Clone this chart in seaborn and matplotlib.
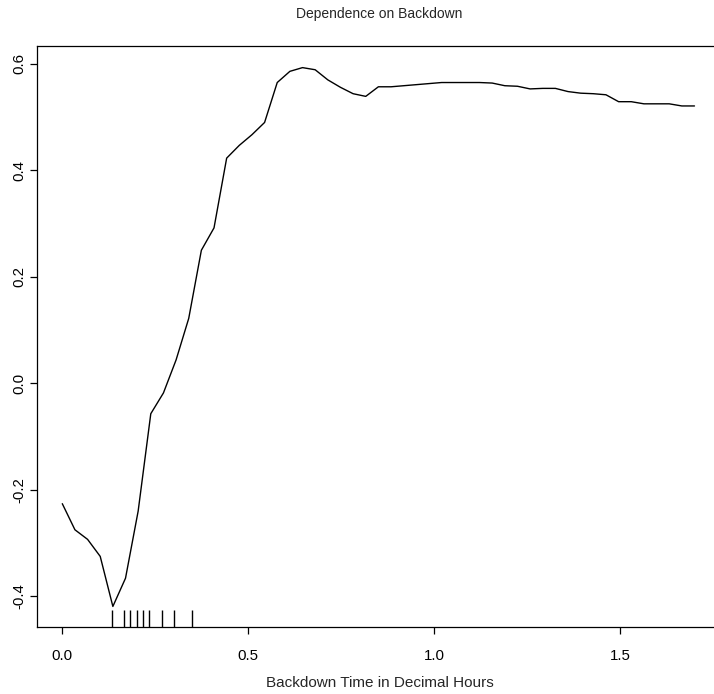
import numpy as np
import pandas as pd
import matplotlib
matplotlib.use("Agg")
import matplotlib.pyplot as plt
import seaborn as sns

# ---- data ----
backdown_hours = [0.000, 0.034, 0.068, 0.102, 0.136, 0.170, 0.204, 0.238, 0.272, 0.306,
                  0.340, 0.374, 0.408, 0.442, 0.476, 0.510, 0.544, 0.578, 0.612, 0.646,
                  0.680, 0.714, 0.748, 0.782, 0.816, 0.850, 0.884, 0.918, 0.952, 0.986,
                  1.020, 1.054, 1.088, 1.122, 1.156, 1.190, 1.224, 1.258, 1.292, 1.326,
                  1.360, 1.394, 1.428, 1.462, 1.496, 1.530, 1.564, 1.598, 1.632, 1.666,
                  1.700]
dependence = [-0.226, -0.275, -0.293, -0.325, -0.419, -0.366, -0.240, -0.057, -0.018, 0.044,
              0.122, 0.250, 0.292, 0.423, 0.447, 0.467, 0.490, 0.565, 0.586, 0.593,
              0.589, 0.570, 0.556, 0.544, 0.539, 0.557, 0.557, 0.559, 0.561, 0.563,
              0.565, 0.565, 0.565, 0.565, 0.564, 0.559, 0.558, 0.553, 0.554, 0.554,
              0.548, 0.545, 0.544, 0.542, 0.529, 0.529, 0.525, 0.525, 0.525, 0.521,
              0.521]
rug_deciles = [0.133, 0.167, 0.183, 0.200, 0.217, 0.233, 0.267, 0.300, 0.350]

x_ticks = [0.0, 0.5, 1.0, 1.5]
x_tick_labels = ["0.0", "0.5", "1.0", "1.5"]
y_ticks = [-0.4, -0.2, 0.0, 0.2, 0.4, 0.6]
y_tick_labels = ["-0.4", "-0.2", "0.0", "0.2", "0.4", "0.6"]

title = "Dependence on Backdown"
xlabel = "Backdown Time in Decimal Hours"

# ---- plotting ----
sns.set_style("ticks")
plt.rcParams['font.family'] = ['Liberation Sans', 'DejaVu Sans']
plt.rcParams['axes.unicode_minus'] = False

W, H = 714, 694
fig = plt.figure(figsize=(W / 100, H / 100), dpi=100)
left, right, bottom, top = 37, 722, 627, 46
ax = fig.add_axes([left / W, (H - bottom) / H, (right - left) / W, (bottom - top) / H])

df = pd.DataFrame({"x": backdown_hours, "y": dependence})
sns.lineplot(data=df, x="x", y="y", ax=ax, color="black", linewidth=1.0, estimator=None)
sns.rugplot(x=rug_deciles, ax=ax, height=0.03, color="black", linewidth=1.0, expand_margins=False)

ax.set_xlim(-0.068, 1.774)
ax.set_ylim(-0.4576, 0.6336)

ax.set_xticks(x_ticks)
ax.set_xticklabels(x_tick_labels)
ax.set_yticks(y_ticks)
ax.set_yticklabels(y_tick_labels, rotation=90, va="center")

for s in ax.spines.values():
    s.set_linewidth(0.9)
    s.set_color("black")
ax.spines["right"].set_visible(False)

ax.tick_params(axis="x", length=5, width=0.9, pad=11, labelsize=10.8, colors="black")
ax.tick_params(axis="y", length=5, width=0.9, pad=3, labelsize=10.8, colors="black")

ax.set_xlabel("")
ax.set_ylabel("")
ax.text(0.5, -0.0964, xlabel, transform=ax.transAxes, ha="center", va="center", fontsize=11)
ax.text(0.5, 1.055, title, transform=ax.transAxes, ha="center", va="center", fontsize=10)

fig.savefig("out.png", dpi=100)
